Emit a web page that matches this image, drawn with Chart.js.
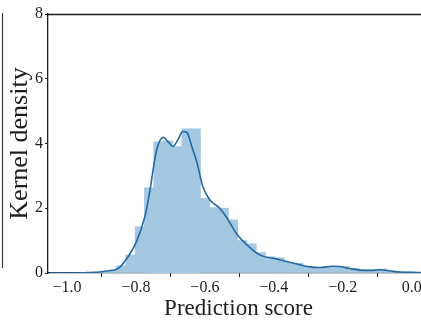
<!DOCTYPE html>
<html>
<head>
<meta charset="utf-8">
<script src="https://cdn.jsdelivr.net/npm/chart.js@4/dist/chart.umd.min.js"></script>
<style>
  html, body { margin: 0; padding: 0; background: #fff; overflow: hidden; }
  #wrap { width: 440px; height: 320px; }
</style>
</head>
<body>
<div id="wrap"><canvas id="c" width="440" height="320"></canvas></div>
<script>
// Histogram bins (bin centres) and their densities
const binCenters = [-0.8965, -0.8695, -0.8425, -0.8155, -0.7885, -0.7615, -0.7345, -0.7075,
  -0.6805, -0.6535, -0.6265, -0.5995, -0.5725, -0.5455, -0.5185, -0.4915, -0.4645, -0.4375,
  -0.4105, -0.3835, -0.3565, -0.3295, -0.3025, -0.2755, -0.2485, -0.2215, -0.1945, -0.1675,
  -0.1405, -0.1135, -0.0865, -0.0595, -0.0325, -0.0055];
const binDensity = [0.03, 0.08, 0.22, 0.56, 1.43, 2.63, 4.05, 4.08, 3.90, 4.45, 4.45, 2.30,
  2.02, 2.00, 1.64, 1.00, 0.90, 0.63, 0.50, 0.47, 0.33, 0.30, 0.20, 0.16, 0.17, 0.20, 0.20,
  0.14, 0.10, 0.09, 0.12, 0.05, 0.04, 0.03];

// Kernel density estimate curve
const kdeX = [-1.05, -1.0, -0.95, -0.92, -0.90, -0.88, -0.86, -0.846, -0.823, -0.80, -0.774,
  -0.759, -0.75, -0.74, -0.73, -0.72, -0.707, -0.693, -0.678, -0.664, -0.652, -0.638, -0.623,
  -0.606, -0.586, -0.557, -0.536, -0.507, -0.478, -0.441, -0.391, -0.345, -0.296, -0.267,
  -0.229, -0.209, -0.18, -0.151, -0.12, -0.093, -0.06, -0.035, 0.0, 0.03];
const kdeY = [0.0, 0.0, 0.01, 0.02, 0.04, 0.07, 0.10, 0.19, 0.50, 0.93, 1.74, 2.57, 3.20,
  3.80, 4.10, 4.19, 4.06, 3.91, 4.12, 4.37, 4.34, 3.91, 3.41, 2.67, 2.26, 2.00, 1.70, 1.20,
  0.87, 0.56, 0.43, 0.31, 0.19, 0.17, 0.21, 0.20, 0.14, 0.09, 0.08, 0.10, 0.06, 0.03, 0.02, 0.01];

// Axis ticks
const xTickValues = [-1.0, -0.8, -0.6, -0.4, -0.2, 0.0];
const xTickLabels = ['\u22121.0', '\u22120.8', '\u22120.6', '\u22120.4', '\u22120.2', '0.0'];
const yTickValues = [0, 2, 4, 6, 8];
const yTickLabels = ['0', '2', '4', '6', '8'];

const serif = "'Liberation Serif', 'Times New Roman', serif";
const ink = '#1e1e1e';

// Top spine plus the edge of the neighbouring panel on the far left
const framePlugin = {
  id: 'frame',
  afterDraw(chart) {
    const { ctx, chartArea: a } = chart;
    ctx.save();
    ctx.strokeStyle = ink;
    ctx.lineWidth = 1.3;
    ctx.beginPath();
    ctx.moveTo(a.left, a.top + 0.5);
    ctx.lineTo(chart.width, a.top + 0.5);
    ctx.stroke();
    ctx.strokeStyle = '#3a3a3a';
    ctx.lineWidth = 1.2;
    ctx.beginPath();
    ctx.moveTo(2.5, 13);
    ctx.lineTo(2.5, 268);
    ctx.stroke();
    ctx.restore();
  }
};

new Chart(document.getElementById('c'), {
  type: 'bar',
  data: {
    datasets: [
      {
        type: 'line',
        data: kdeX.map((x, i) => ({ x, y: kdeY[i] })),
        borderColor: 'rgb(38,104,158)',
        borderWidth: 1.6,
        pointRadius: 0,
        fill: false,
        cubicInterpolationMode: 'monotone',
        order: 0
      },
      {
        type: 'bar',
        data: binCenters.map((x, i) => ({ x, y: binDensity[i] })),
        backgroundColor: 'rgb(164,200,226)',
        borderWidth: 0,
        inflateAmount: 0.4,
        barPercentage: 1.0,
        categoryPercentage: 1.0,
        order: 1
      }
    ]
  },
  plugins: [framePlugin],
  options: {
    responsive: false,
    animation: false,
    devicePixelRatio: 1,
    layout: { padding: { left: 0, right: 11, top: 14, bottom: 0 } },
    plugins: { legend: { display: false }, tooltip: { enabled: false } },
    scales: {
      x: {
        type: 'linear',
        offset: false,
        min: -1.055,
        max: 0.05,
        afterBuildTicks(scale) { scale.ticks = xTickValues.map(v => ({ value: v })); },
        afterFit(scale) { scale.height = 47; },
        ticks: {
          callback: (v, i) => xTickLabels[i],
          font: { family: serif, size: 16 },
          color: ink,
          padding: 1,
          maxRotation: 0,
          autoSkip: false
        },
        grid: { display: true, drawOnChartArea: false, drawTicks: true, tickLength: 4, tickColor: ink, tickWidth: 1 },
        border: { display: true, color: ink, width: 1.3 },
        title: {
          display: true,
          text: 'Prediction score',
          font: { family: serif, size: 23 },
          color: ink,
          padding: { top: 0, bottom: -3 }
        }
      },
      y: {
        min: 0,
        max: 8,
        afterBuildTicks(scale) { scale.ticks = yTickValues.map(v => ({ value: v })); },
        afterFit(scale) { scale.width = 48; },
        ticks: {
          callback: (v, i) => yTickLabels[i],
          font: { family: serif, size: 16 },
          color: ink,
          padding: 2
        },
        grid: { display: true, drawOnChartArea: false, drawTicks: true, tickLength: 3, tickColor: ink, tickWidth: 1 },
        border: { display: true, color: ink, width: 1.3 },
        title: {
          display: true,
          text: 'Kernel density',
          font: { family: serif, size: 26 },
          color: ink,
          padding: { top: 5, bottom: 0 }
        }
      }
    }
  }
});
</script>
</body>
</html>
